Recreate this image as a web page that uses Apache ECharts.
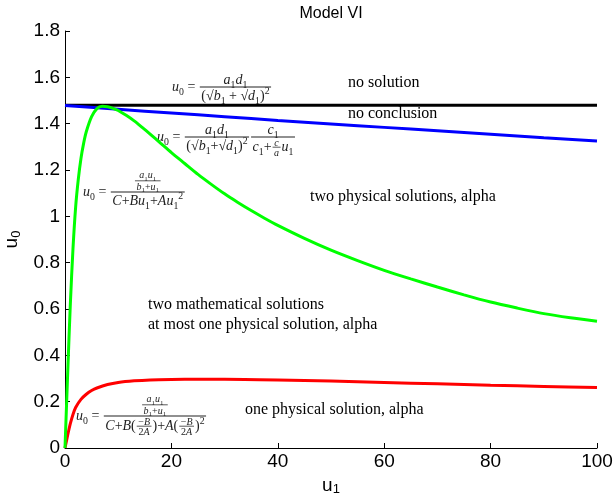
<!DOCTYPE html>
<html>
<head>
<meta charset="utf-8">
<script src="https://cdn.jsdelivr.net/npm/echarts@6.0.0/dist/echarts.min.js"></script>
<style>
  html, body { margin: 0; padding: 0; background: #fff; }
  #chart { width: 614px; height: 496px; }
</style>
</head>
<body>
<div id="chart"></div>
<script>
// Axis ticks
const xTickValues = [0, 20, 40, 60, 80, 100];
const yTickLabels = ['0', '0.2', '0.4', '0.6', '0.8', '1', '1.2', '1.4', '1.6', '1.8'];

// Region boundaries, [u1, u0]
const noSolutionEdge = [[0, 1.48], [100, 1.48]];
const noConclusionEdge = [
  [0, 1.478], [10, 1.462], [20, 1.446], [30, 1.43], [40, 1.414], [50, 1.399],
  [60, 1.384], [70, 1.369], [80, 1.354], [90, 1.339], [100, 1.325]
];
const twoPhysicalEdge = [
  [0, 0], [0.5, 0.32], [1, 0.62], [1.5, 0.86], [2, 1.04], [2.5, 1.16], [3, 1.25],
  [3.5, 1.315], [4, 1.365], [5, 1.43], [6, 1.465], [7, 1.475], [8, 1.473],
  [9, 1.466], [10, 1.457], [11.5, 1.436], [13, 1.412], [14.5, 1.384], [16, 1.355],
  [18, 1.315], [20, 1.275], [22.5, 1.228], [25, 1.181], [27.5, 1.138], [30, 1.097],
  [32.5, 1.06], [35, 1.025], [37.5, 0.992], [40, 0.961], [45, 0.905], [50, 0.854],
  [55, 0.809], [60, 0.767], [65, 0.73], [70, 0.695], [75, 0.661], [80, 0.63],
  [85, 0.604], [90, 0.58], [95, 0.562], [100, 0.547]
];
const onePhysicalEdge = [
  [0, 0], [0.5, 0.055], [1, 0.105], [1.5, 0.145], [2, 0.175], [3, 0.21], [4, 0.232],
  [5, 0.248], [6, 0.259], [8, 0.274], [10, 0.283], [13, 0.29], [16, 0.294],
  [20, 0.296], [25, 0.297], [30, 0.297], [40, 0.294], [50, 0.289], [60, 0.283],
  [70, 0.277], [80, 0.271], [90, 0.266], [100, 0.261]
];

// Region captions
const captions = [
  { text: 'no solution', x: 348, y: 83 },
  { text: 'no conclusion', x: 348, y: 114 },
  { text: 'two physical solutions, alpha', x: 310, y: 197 },
  { text: 'two mathematical solutions', x: 148, y: 305 },
  { text: 'at most one physical solution, alpha', x: 148, y: 325 },
  { text: 'one physical solution, alpha', x: 245, y: 410 }
];

const SANS = '"Liberation Sans", Arial, sans-serif';
const SERIF = '"Liberation Serif", "Times New Roman", serif';
const INK = '#000';
const MATH_INK = '#222';

// ---- small math typesetter (fractions, sub/superscripts) ----
const mctx = document.createElement('canvas').getContext('2d');

function parseMath(str) {
  const frags = [];
  for (let i = 0; i < str.length; i++) {
    const c = str[i];
    let kind, s;
    if ((c === '_' || c === '^') && i + 1 < str.length) {
      kind = c === '_' ? 'b' : 'p'; s = str[i + 1]; i++;
    } else if (/[A-Za-z]/.test(c)) { kind = 'i'; s = c; }
    else { kind = 'n'; s = c; }
    const last = frags[frags.length - 1];
    if (last && last.k === kind) last.s += s; else frags.push({ k: kind, s: s });
  }
  return frags;
}
function fontOf(k, fs) {
  const size = (k === 'b' || k === 'p') ? fs * 0.7 : fs;
  return (k === 'i' ? 'italic ' : '') + size.toFixed(2) + 'px ' + SERIF;
}
function richFor(fs) {
  const L = fs * 1.4;
  const base = { fontFamily: SERIF, fill: MATH_INK };
  return {
    i: Object.assign({}, base, { fontStyle: 'italic', fontSize: fs, lineHeight: L }),
    n: Object.assign({}, base, { fontStyle: 'normal', fontSize: fs, lineHeight: L }),
    b: Object.assign({}, base, { fontSize: fs * 0.7, lineHeight: fs * 0.7, verticalAlign: 'bottom' }),
    p: Object.assign({}, base, { fontSize: fs * 0.7, lineHeight: fs * 0.7, verticalAlign: 'top' })
  };
}
function frac(n, d, fs) { return { frac: true, n: n, d: d, fs: fs }; }

// returns {w, asc, desc, draw(x, axisY, out)}
function box(item, fs) {
  if (Array.isArray(item)) {
    const parts = item.map(p => box(p, fs));
    return {
      w: parts.reduce((a, p) => a + p.w, 0),
      asc: Math.max.apply(null, parts.map(p => p.asc)),
      desc: Math.max.apply(null, parts.map(p => p.desc)),
      draw(x, y, out) { let cx = x; parts.forEach(p => { p.draw(cx, y, out); cx += p.w; }); }
    };
  }
  if (item.frac) {
    const cfs = item.fs;
    const nb = box(item.n, cfs), db = box(item.d, cfs);
    const w = Math.max(nb.w, db.w) + 3;
    const gap = 1.2;
    return {
      w: w + 2,
      asc: gap + nb.desc + nb.asc,
      desc: gap + db.asc + db.desc,
      draw(x, y, out) {
        out.push({ type: 'line', silent: true,
          shape: { x1: x + 1, y1: y, x2: x + 1 + w, y2: y },
          style: { stroke: MATH_INK, lineWidth: Math.max(0.7, cfs * 0.075) } });
        nb.draw(x + 1 + (w - nb.w) / 2, y - gap - nb.desc, out);
        db.draw(x + 1 + (w - db.w) / 2, y + gap + db.asc, out);
      }
    };
  }
  const frags = parseMath(item);
  let w = 0;
  frags.forEach(f => { mctx.font = fontOf(f.k, fs); w += mctx.measureText(f.s).width; });
  const hasSup = frags.some(f => f.k === 'p');
  const hasSub = frags.some(f => f.k === 'b');
  return {
    w: w,
    asc: fs * (hasSup ? 0.58 : 0.48),
    desc: fs * (hasSub ? 0.4 : 0.3),
    draw(x, y, out) {
      out.push({ type: 'text', silent: true, x: x, y: y + fs * 0.02,
        style: { text: frags.map(f => '{' + f.k + '|' + f.s + '}').join(''),
          rich: richFor(fs), align: 'left', verticalAlign: 'middle' } });
    }
  };
}
function formula(item, fs, x, y) {
  const out = [];
  box(item, fs).draw(x, y, out);
  return out;
}

const EQ = 'u_0 = ';
const MAIN = 14, PART = 14, SMALL = 10;
const formulas = [].concat(
  formula([EQ, frac('a_1d_1', '(√b_1 + √d_1)^2', PART)], MAIN, 172, 87),
  formula([EQ, frac('a_1d_1', '(√b_1+√d_1)^2', PART),
    frac('c_1', ['c_1+', frac('c', 'a', SMALL), 'u_1'], PART)], MAIN, 157, 137),
  formula([EQ, frac(frac('a_1u_1', 'b_1+u_1', SMALL), 'C+Bu_1+Au_1^2', PART)], MAIN, 83, 192),
  formula([EQ, frac(frac('a_1u_1', 'b_1+u_1', SMALL),
    ['C+B(', frac('−B', '2A', SMALL), ')+A(', frac('−B', '2A', SMALL), ')^2'], PART)], MAIN, 76, 416)
);

const captionEls = captions.map(c => ({
  type: 'text', silent: true, x: c.x, y: c.y,
  style: { text: c.text, fontFamily: SERIF, fontSize: 16, fill: INK, align: 'left', verticalAlign: 'middle' }
}));

const chart = echarts.init(document.getElementById('chart'), null, { renderer: 'canvas' });

const lineSeries = (name, data, color) => ({
  name: name, type: 'line', data: data, showSymbol: false, smooth: 0.25,
  lineStyle: { color: color, width: 3 }, silent: true, animation: false
});

const axisNameRich = {
  v: { fontFamily: SANS, fontSize: 19, color: INK, lineHeight: 22 },
  s: { fontFamily: SANS, fontSize: 13, color: INK, lineHeight: 13, verticalAlign: 'bottom' }
};

chart.setOption({
  animation: false,
  grid: { left: 65, right: 17, top: 31, bottom: 48, containLabel: false, outerBoundsMode: 'none' },
  xAxis: {
    type: 'value', min: 0, max: 100, interval: 20,
    name: '{v|u}{s|1}', nameLocation: 'middle', nameGap: 16,
    nameTextStyle: { rich: axisNameRich },
    axisLine: { lineStyle: { color: INK, width: 1 } },
    axisTick: { inside: true, length: 5, lineStyle: { color: INK } },
    axisLabel: { fontFamily: SANS, fontSize: 19, color: INK, margin: 4,
      formatter: v => (xTickValues.indexOf(v) >= 0 ? String(v) : '') },
    splitLine: { show: false }
  },
  yAxis: {
    type: 'value', min: 0, max: 1.8, interval: 0.2,
    name: '{v|u}{s|0}', nameLocation: 'middle', nameGap: 33, nameRotate: 90,
    nameTextStyle: { rich: axisNameRich },
    axisLine: { show: true, lineStyle: { color: INK, width: 1 } },
    axisTick: { show: true, inside: true, length: 5, lineStyle: { color: INK } },
    axisLabel: { fontFamily: SANS, fontSize: 19, color: INK, margin: 5,
      formatter: v => yTickLabels[Math.round(v / 0.2)] },
    splitLine: { show: false }
  },
  series: [
    lineSeries('no solution', noSolutionEdge, '#000000'),
    lineSeries('no conclusion', noConclusionEdge, '#0000ff'),
    lineSeries('one physical solution', onePhysicalEdge, '#ff0000'),
    lineSeries('two physical solutions', twoPhysicalEdge, '#00ff00')
  ],
  graphic: [
    { type: 'text', silent: true, x: 331, y: 14,
      style: { text: 'Model VI', fontFamily: SANS, fontSize: 16, fill: INK, align: 'center', verticalAlign: 'middle' } }
  ].concat(captionEls, formulas)
});
</script>
</body>
</html>
